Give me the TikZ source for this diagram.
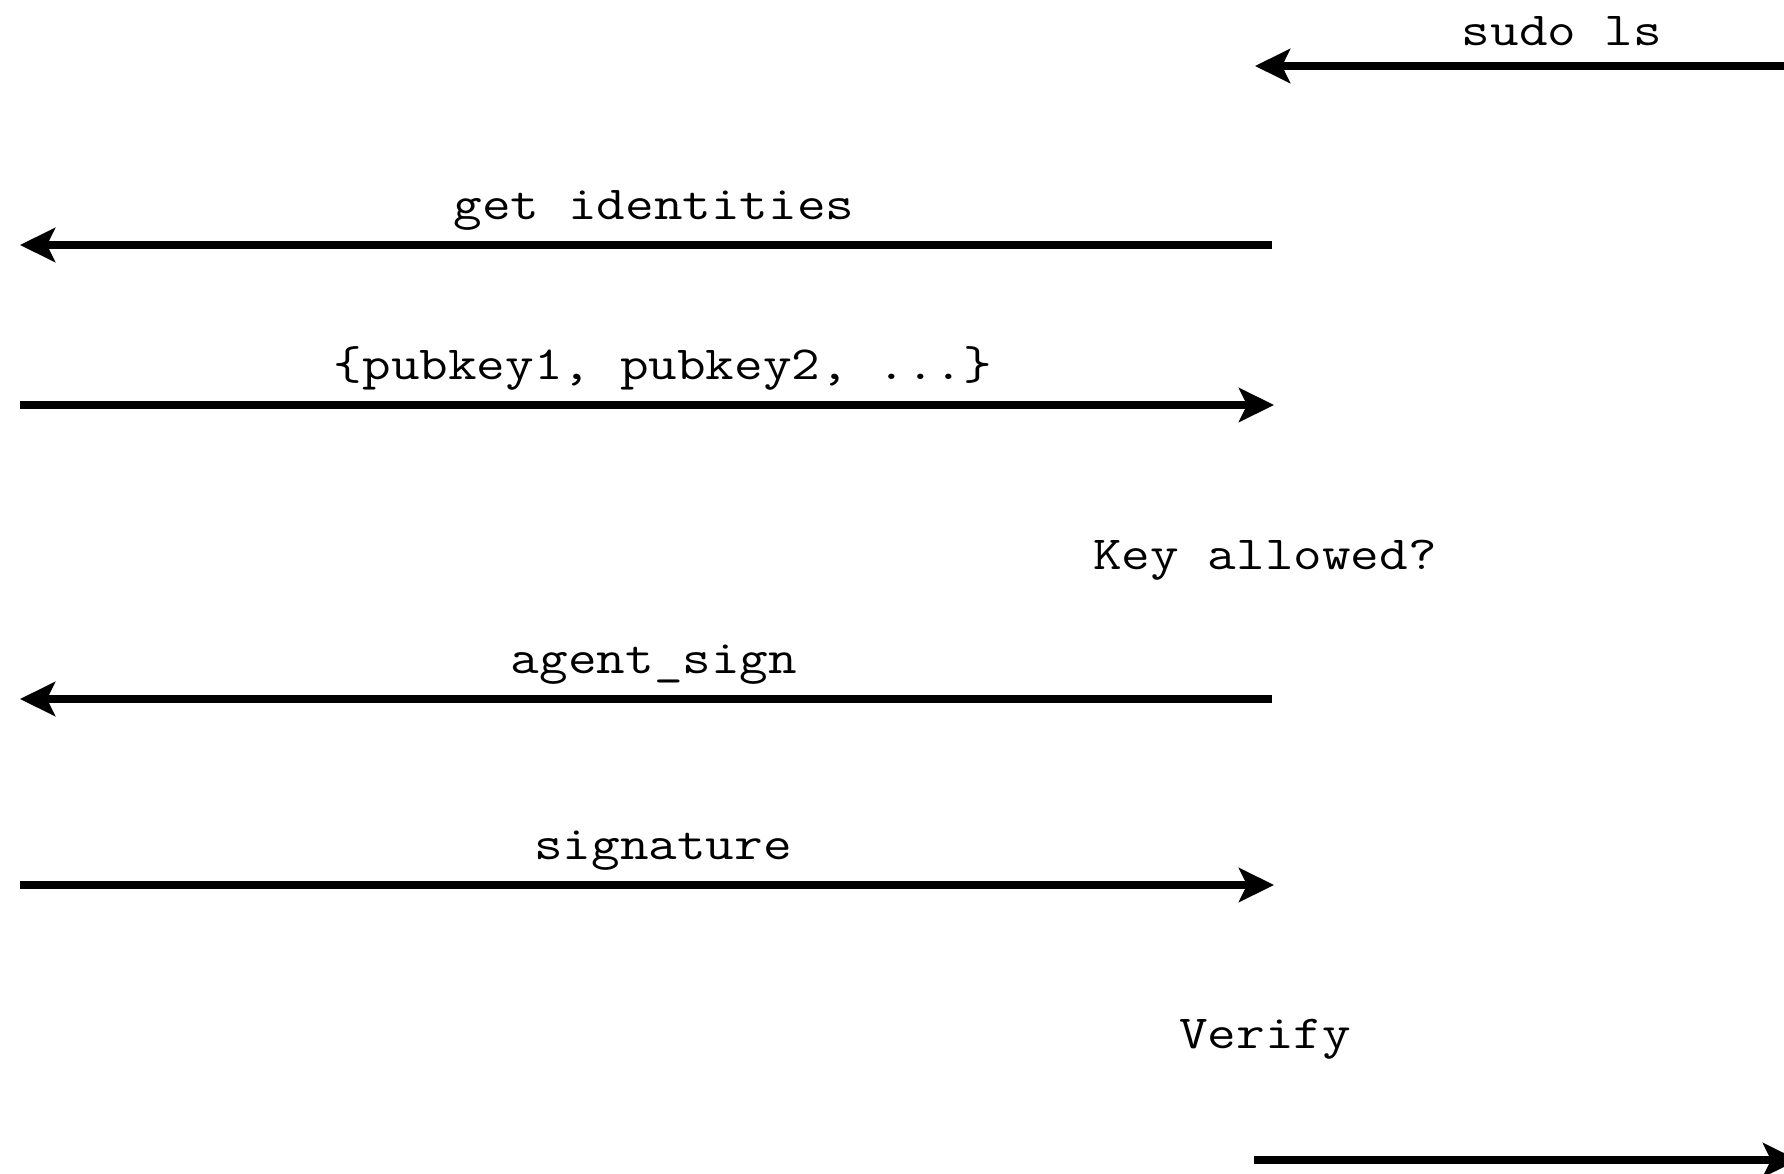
\documentclass[tikz,border=0pt]{standalone}
\usepackage{fontspec}
\usepackage{graphicx}
\usetikzlibrary{arrows.meta}
\newcommand{\cour}[1]{\scalebox{1.17}[1]{\ttfamily\fontsize{47.5}{57}\selectfont #1}}
\tikzset{
  msg/.style={line width=8pt, -{Stealth[length=35pt, width=34pt, inset=8pt]}},
  lbl/.style={inner sep=0pt, anchor=base},
}
\begin{document}
\begin{tikzpicture}[x=1pt,y=-1pt]
\clip (0,0) rectangle (1784,1174);
\useasboundingbox (0,0) rectangle (1784,1174);
% endpoints
\coordinate (r1) at (1870,66);   \coordinate (m1) at (1255,66);
\coordinate (m2) at (1272,245);  \coordinate (l2) at (20,245);
\coordinate (l3) at (20,405);    \coordinate (m3) at (1274,405);
\coordinate (m4) at (1272,699);  \coordinate (l4) at (20,699);
\coordinate (l5) at (20,885);    \coordinate (m5) at (1274,885);
\coordinate (m6) at (1254,1160); \coordinate (r6) at (1798,1160);
% messages
\draw[msg] (r1) -- (m1);
\draw[msg] (m2) -- (l2);
\draw[msg] (l3) -- (m3);
\draw[msg] (m4) -- (l4);
\draw[msg] (l5) -- (m5);
\draw[msg] (m6) -- (r6);
% labels
\node[lbl] (t1) at (1562,46) {\cour{sudo ls}};
\node[lbl] (t2) at (654,220) {\cour{get identities}};
\node[lbl] (t3) at (663,379) {\cour{\{pubkey1, pubkey2, ...\}}};
\node[lbl] (t4) at (1265,569) {\cour{Key allowed?}};
\node[lbl] (t5) at (654,673) {\cour{agent\_sign}};
\node[lbl] (t6) at (663,859) {\cour{signature}};
\node[lbl] (t7) at (1265,1048) {\cour{Verify}};
\end{tikzpicture}
\end{document}
